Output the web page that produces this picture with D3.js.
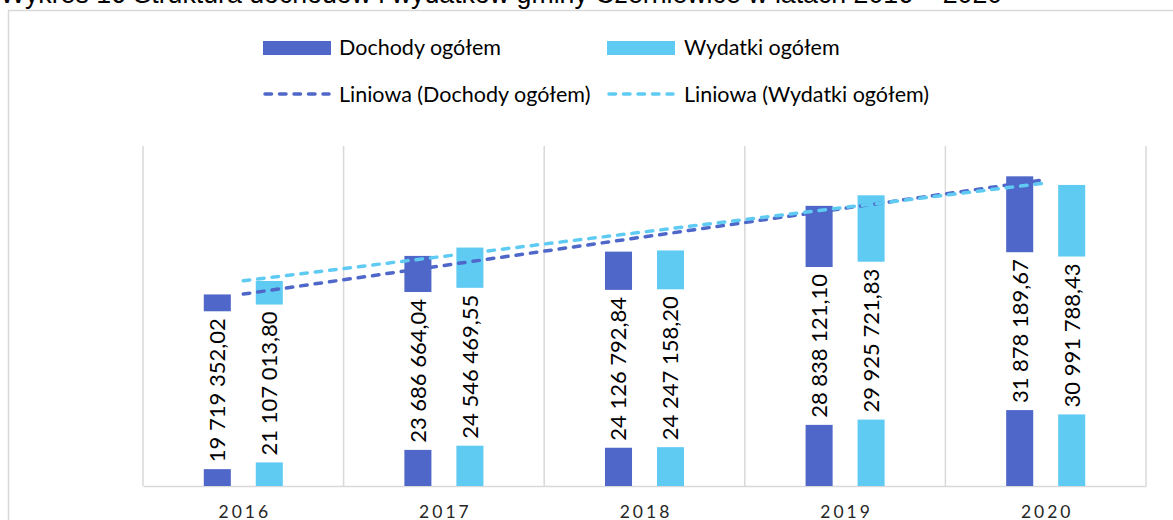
<!DOCTYPE html>
<html><head><meta charset="utf-8">
<script src="https://cdn.jsdelivr.net/npm/d3@7"></script>
<style>body{margin:0;background:#fff}svg{display:block}</style>
</head><body><svg id="c" width="1173" height="520"></svg>
<script>
const years = ["2016","2017","2018","2019","2020"];
const dochody = [19719352.02, 23686664.04, 24126792.84, 28838121.10, 31878189.67];
const wydatki = [21107013.80, 24546469.55, 24247158.20, 29925721.83, 30991788.43];
const seriesNames = ["Dochody ogółem","Wydatki ogółem"];
const trendNames = ["Liniowa (Dochody ogółem)","Liniowa (Wydatki ogółem)"];
const titleText = "Wykres 16 Struktura dochodów i wydatków gminy Czerniewice w latach 2016 – 2020";
const yMax = 35000000;

const colors = ["#4F67C8","#5FCBF3"];
const series = [dochody, wydatki];
const svg = d3.select("#c");
const plot = {l:143, r:1146, t:146, b:486};

// chart frame
svg.append("rect").attr("x",8.5).attr("y",10.5).attr("width",1200).attr("height",600)
  .attr("fill","none").attr("stroke","#D9D9D9").attr("stroke-width",1.5);

// title
const title = svg.append("text").attr("x",0).attr("y",3).attr("font-family","Liberation Sans, Arial")
  .attr("font-size",20).attr("fill","#000").text(titleText);
const tl = title.node().getComputedTextLength();
title.attr("font-size", 20*1003/tl);

const x0 = d3.scaleBand().domain(years).range([plot.l, plot.r]).padding(0);
const x1 = d3.scaleBand().domain([0,1]).range([0, x0.bandwidth()]).paddingInner(0.48).paddingOuter(1.169);
const y = d3.scaleLinear().domain([0, yMax]).range([plot.b, plot.t]);

// vertical gridlines at category boundaries
const edges = years.map(d=>x0(d)).concat([plot.r]);
svg.append("g").selectAll("line").data(edges).join("line")
  .attr("x1",d=>d).attr("x2",d=>d).attr("y1",plot.t).attr("y2",plot.b)
  .attr("stroke","#D9D9D9").attr("stroke-width",1.5);

// x axis
const xAxis = d3.axisBottom(x0).tickSize(0).tickPadding(0);
const gx = svg.append("g").attr("transform",`translate(0,${plot.b})`).call(xAxis);
gx.select(".domain").attr("stroke","#D9D9D9").attr("stroke-width",1.5);
gx.selectAll("text").attr("font-family","Lato").attr("font-size",17.5).attr("fill","#262626")
  .attr("letter-spacing","3px").attr("dy",null).attr("y",32).attr("dx","1.5px");

const fmt = d3.formatLocale({decimal:",", thousands:" ", grouping:[3], currency:["",""]}).format(",.2f");

// bars
const data = [];
years.forEach((yr,i)=>series.forEach((s,k)=>data.push({yr, k, v:s[i]})));
const gb = svg.append("g");
gb.selectAll("rect").data(data).join("rect")
  .attr("x",d=>x0(d.yr)+x1(d.k)).attr("width",x1.bandwidth())
  .attr("y",d=>y(d.v)).attr("height",d=>y(0)-y(d.v)).attr("fill",d=>colors[d.k]);

// labels with white boxes, centered in bars
const gl = svg.append("g");
data.forEach(d=>{
  const cx = x0(d.yr)+x1(d.k)+x1.bandwidth()/2;
  const cy = (y(d.v)+y(0))/2;
  const g = gl.append("g").attr("transform",`translate(${cx},${cy}) rotate(-90)`);
  const t = g.append("text").attr("text-anchor","middle").attr("dy","0.36em")
    .attr("font-family","Lato").attr("font-size",22).attr("fill","#000").text(fmt(d.v));
  const len = t.node().getComputedTextLength();
  g.insert("rect","text").attr("x",-len/2-7).attr("width",len+14)
    .attr("y",-x1.bandwidth()/2-2).attr("height",x1.bandwidth()+4).attr("fill","#fff");
});

// linear trend lines
function trend(vals){
  const n = vals.length, xs = vals.map((_,i)=>i+1);
  const mx = d3.mean(xs), my = d3.mean(vals);
  const b = d3.sum(xs.map((xv,i)=>(xv-mx)*(vals[i]-my)))/d3.sum(xs.map(xv=>(xv-mx)**2));
  const a = my - b*mx;
  return [a+b*1, a+b*n];
}
const line = d3.line().x(d=>d[0]).y(d=>y(d[1]));
series.forEach((s,k)=>{
  const [v0,v1] = trend(s);
  const pts = [[x0(years[0])+x0.bandwidth()/2, v0],[x0(years[years.length-1])+x0.bandwidth()/2, v1]];
  svg.append("path").attr("d",line(pts)).attr("fill","none").attr("stroke",colors[k])
    .attr("stroke-width",3.5).attr("stroke-dasharray","6.5,8").attr("stroke-linecap","round");
});

// legend
const legX = [263, 607], legTextX = [339, 684];
series.forEach((s,k)=>{
  svg.append("rect").attr("x",legX[k]).attr("y",41).attr("width",68).attr("height",14).attr("fill",colors[k]);
  svg.append("text").attr("x",legTextX[k]).attr("y",55).attr("font-family","Lato")
    .attr("font-size",21.5).attr("fill","#000").text(seriesNames[k]);
  svg.append("line").attr("x1",legX[k]+2).attr("x2",legX[k]+66).attr("y1",94).attr("y2",94)
    .attr("stroke",colors[k]).attr("stroke-width",3.5).attr("stroke-dasharray","6.5,8").attr("stroke-linecap","round");
  svg.append("text").attr("x",legTextX[k]).attr("y",102).attr("font-family","Lato")
    .attr("font-size",21.5).attr("fill","#000").text(trendNames[k]);
});
</script></body></html>
